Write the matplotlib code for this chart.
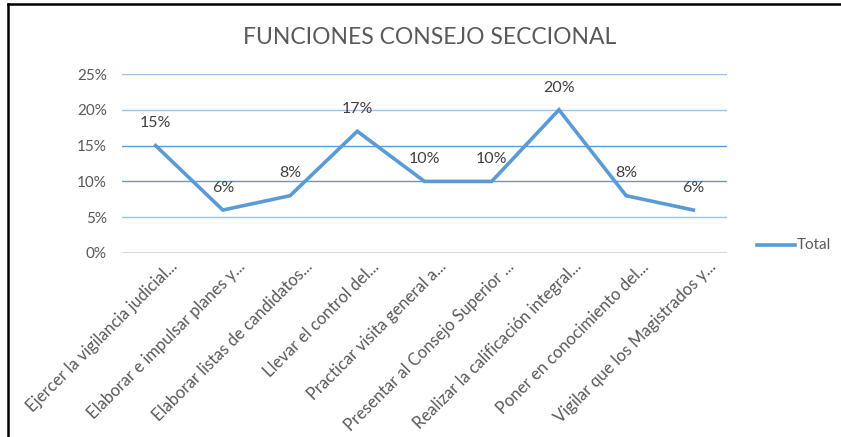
import matplotlib
matplotlib.use("Agg")
import matplotlib.pyplot as plt
from matplotlib.lines import Line2D
from matplotlib.transforms import ScaledTranslation

categories = [
    "Ejercer la vigilancia judicial...",
    "Elaborar e impulsar planes y...",
    "Elaborar listas de candidatos...",
    "Llevar el control del...",
    "Practicar visita general a...",
    "Presentar al Consejo Superior ...",
    "Realizar la calificación integral...",
    "Poner en conocimiento del...",
    "Vigilar que los Magistrados y...",
]
values = [0.15, 0.06, 0.08, 0.17, 0.10, 0.10, 0.20, 0.08, 0.06]
value_labels = ["15%", "6%", "8%", "17%", "10%", "10%", "20%", "8%", "6%"]
yticks = [0, 0.05, 0.10, 0.15, 0.20, 0.25]
ytick_labels = ["0%", "5%", "10%", "15%", "20%", "25%"]
series_name = "Total"
title = "FUNCIONES CONSEJO SECCIONAL"

plt.rcParams['font.family'] = ['Lato', 'DejaVu Sans']

W, H = 841, 437
fig = plt.figure(figsize=(W / 100, H / 100), dpi=100)
ax = fig.add_axes([122 / W, 1 - 253 / H, (727 - 122) / W, (253 - 74) / H])

line_color = "#5B9BD5"
x = list(range(len(categories)))
ax.plot(x, values, color=line_color, linewidth=2.6, solid_joinstyle='miter', zorder=3)

ax.set_xlim(-0.5, len(categories) - 0.5)
ax.set_ylim(0, 0.25)

grid_colors = {0.05: "#9DC3E6", 0.10: "#5B9BD5", 0.15: "#5B9BD5", 0.20: "#9DC3E6", 0.25: "#9DC3E6"}
for yv, c in grid_colors.items():
    ax.axhline(yv, color=c, linewidth=1.0, zorder=1)
ax.axhline(0, color="#D9D9D9", linewidth=1.5, zorder=1)

for s in ax.spines.values():
    s.set_visible(False)

ax.set_yticks(yticks)
ax.set_yticklabels(ytick_labels, fontsize=11, color="#595959")
ax.set_xticks(x)
ax.set_xticklabels(categories, rotation=45, ha='right', rotation_mode='anchor',
                   fontsize=12, color="#595959")
ax.tick_params(axis='both', length=0)
ax.tick_params(axis='y', pad=11)
ax.tick_params(axis='x', pad=4)
shift = ScaledTranslation(14 / 100, 0, fig.dpi_scale_trans)
for lbl in ax.get_xticklabels():
    lbl.set_transform(lbl.get_transform() + shift)

for xi, v, lab in zip(x, values, value_labels):
    ax.annotate(lab, (xi, v), xytext=(0, 11), textcoords='offset points',
                ha='center', va='bottom', fontsize=11.5, color="#404040", zorder=4)

fig.text(430 / W, 1 - 37 / H, title, ha='center', va='center', fontsize=16.5, color="#595959")

# legend
fig.add_artist(Line2D([757 / W, 795 / W], [1 - 245 / H, 1 - 245 / H], color=line_color,
                      linewidth=2.6, transform=fig.transFigure))
fig.text(797 / W, 1 - 245 / H, series_name, ha='left', va='center', fontsize=11, color="#595959")

# border (top and left)
fig.add_artist(Line2D([8 / W, 1.0], [1 - 4 / H, 1 - 4 / H], color="black", linewidth=1.8,
                      transform=fig.transFigure))
fig.add_artist(Line2D([8 / W, 8 / W], [0, 1 - 4 / H], color="black", linewidth=1.8,
                      transform=fig.transFigure))

fig.savefig("out.png", dpi=100)
